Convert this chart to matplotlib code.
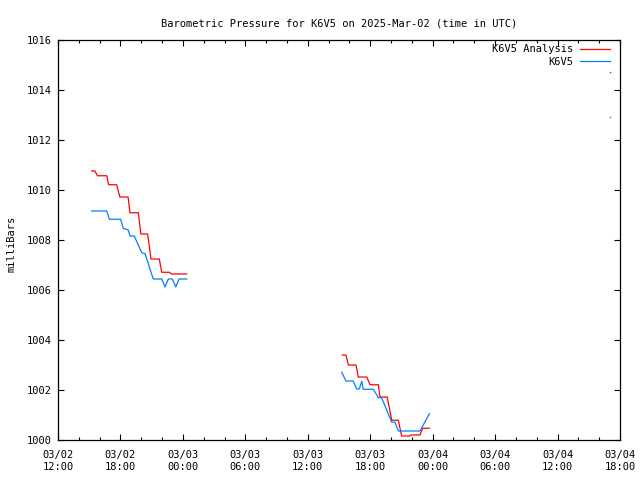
import numpy as np
import pandas as pd
import matplotlib
matplotlib.use("Agg")
import matplotlib.pyplot as plt
import matplotlib.dates as mdates

plt.rcParams['font.family'] = ['DejaVu Sans Mono']

# K6V5 Analysis (red)
red_times = ["2025-03-02 15:14", "2025-03-02 15:33", "2025-03-02 15:47", "2025-03-02 16:41",
             "2025-03-02 16:52", "2025-03-02 17:38", "2025-03-02 17:57", "2025-03-02 18:44",
             "2025-03-02 18:55", "2025-03-02 19:43", "2025-03-02 19:58", "2025-03-02 20:37",
             "2025-03-02 20:56", "2025-03-02 21:44", "2025-03-02 21:58", "2025-03-02 22:42",
             "2025-03-02 22:55", "2025-03-03 00:22",
             "2025-03-03 06:00",
             "2025-03-03 15:19", "2025-03-03 15:40", "2025-03-03 15:54", "2025-03-03 16:38",
             "2025-03-03 16:51", "2025-03-03 17:40", "2025-03-03 17:59", "2025-03-03 18:47",
             "2025-03-03 18:56", "2025-03-03 19:38", "2025-03-03 20:04", "2025-03-03 20:42",
             "2025-03-03 21:01", "2025-03-03 21:49", "2025-03-03 21:52", "2025-03-03 22:47",
             "2025-03-03 23:02", "2025-03-03 23:41"]
red_values = [1010.76, 1010.76, 1010.57, 1010.57,
              1010.21, 1010.21, 1009.72, 1009.72,
              1009.09, 1009.09, 1008.24, 1008.24,
              1007.24, 1007.24, 1006.71, 1006.71,
              1006.64, 1006.64,
              np.nan,
              1003.40, 1003.40, 1003.00, 1003.00,
              1002.52, 1002.52, 1002.21, 1002.21,
              1001.72, 1001.72, 1000.79, 1000.79,
              1000.16, 1000.16, 1000.20, 1000.20,
              1000.47, 1000.47]

# K6V5 (blue)
blue_times = ["2025-03-02 15:14", "2025-03-02 16:41", "2025-03-02 16:56", "2025-03-02 18:01",
              "2025-03-02 18:16", "2025-03-02 18:45", "2025-03-02 18:55", "2025-03-02 19:20",
              "2025-03-02 20:03", "2025-03-02 20:22", "2025-03-02 21:09", "2025-03-02 21:58",
              "2025-03-02 22:17", "2025-03-02 22:36", "2025-03-02 22:59", "2025-03-02 23:19",
              "2025-03-02 23:38", "2025-03-03 00:22",
              "2025-03-03 06:00",
              "2025-03-03 15:16", "2025-03-03 15:40", "2025-03-03 16:22", "2025-03-03 16:42",
              "2025-03-03 16:57", "2025-03-03 17:11", "2025-03-03 17:20", "2025-03-03 18:18",
              "2025-03-03 18:47", "2025-03-03 19:06", "2025-03-03 20:04", "2025-03-03 20:23",
              "2025-03-03 20:42", "2025-03-03 22:47", "2025-03-03 23:41"]
blue_values = [1009.16, 1009.16, 1008.83, 1008.83,
               1008.47, 1008.40, 1008.16, 1008.16,
               1007.49, 1007.45, 1006.44, 1006.44,
               1006.12, 1006.44, 1006.44, 1006.12,
               1006.44, 1006.44,
               np.nan,
               1002.71, 1002.36, 1002.36, 1002.04,
               1002.04, 1002.35, 1002.03, 1002.03,
               1001.69, 1001.69, 1000.71, 1000.71,
               1000.36, 1000.36, 1001.05]

# isolated single readings at the far right
red_dot_time = ["2025-03-04 17:02"]
red_dot_value = [1014.71]
blue_dot_time = ["2025-03-04 17:02"]
blue_dot_value = [1012.91]

title = "Barometric Pressure for K6V5 on 2025-Mar-02 (time in UTC)"
red_col = "#ff0000"
blue_col = "#0080ff"
FS = 7.5
LW = 0.9

fig = plt.figure(figsize=(6.4, 4.8), dpi=100)
ax = fig.add_axes([58/640, 40/480, 562/640, 400/480])

rt = pd.to_datetime(red_times)
bt = pd.to_datetime(blue_times)
ax.plot(rt, red_values, color=red_col, lw=LW, label="K6V5 Analysis")
ax.plot(bt, blue_values, color=blue_col, lw=LW, label="K6V5")
ax.plot(pd.to_datetime(red_dot_time), red_dot_value, ls='none', marker='s', ms=1.0,
        mew=0, color=red_col)
ax.plot(pd.to_datetime(blue_dot_time), blue_dot_value, ls='none', marker='s', ms=1.0,
        mew=0, color=blue_col)

ax.set_xlim(pd.Timestamp("2025-03-02 12:00"), pd.Timestamp("2025-03-04 18:00"))
ax.set_ylim(1000, 1016)
ax.set_yticks(np.arange(1000, 1017, 2))
ax.yaxis.set_major_formatter(matplotlib.ticker.FormatStrFormatter('%d'))
ax.xaxis.set_major_locator(mdates.HourLocator(byhour=range(0, 24, 6)))
ax.xaxis.set_minor_locator(mdates.HourLocator(byhour=range(0, 24, 2)))
ax.xaxis.set_major_formatter(mdates.DateFormatter('%m/%d\n%H:%M'))

ax.tick_params(axis='both', which='major', direction='in', length=4, width=0.8,
               top=True, right=True, labelsize=FS, pad=4.5)
ax.tick_params(axis='x', which='minor', direction='in', length=2.2, width=0.8,
               top=True, bottom=True)
ax.tick_params(axis='x', which='major', pad=7)
for lab in ax.get_xticklabels():
    lab.set_linespacing(1.3)
for s in ax.spines.values():
    s.set_linewidth(0.9)
    s.set_color('black')

fig.text(12/640, 236/480, "milliBars", rotation=90, ha='center', va='center', fontsize=FS)
ax.set_title(title, fontsize=FS, pad=10)

leg = ax.legend(loc='upper right', frameon=False, markerfirst=False, fontsize=FS,
                handlelength=2.9, handletextpad=0.6, labelspacing=0.25,
                borderpad=0.4, borderaxespad=0.0,
                bbox_to_anchor=(1 - 6/562, 1.0))

fig.savefig("out.png", dpi=100)
